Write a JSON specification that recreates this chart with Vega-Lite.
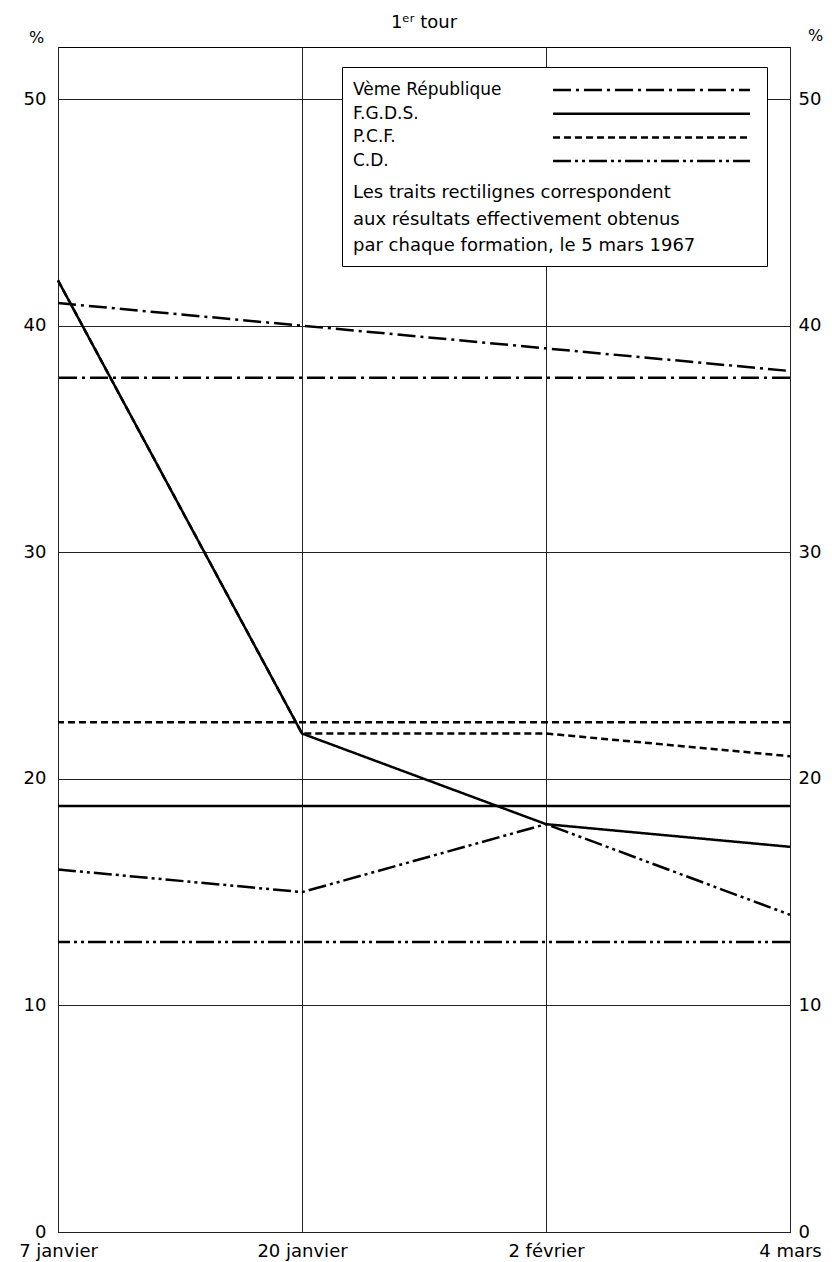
{
  "$schema": "https://vega.github.io/schema/vega-lite/v6.json",
  "width": 732,
  "height": 1185,
  "autosize": {"type": "none"},
  "padding": {"left": 58, "top": 47, "right": 42, "bottom": 30},
  "background": "white",
  "title": {"text": "1ᵉʳ tour", "fontSize": 18, "font": "DejaVu Sans", "fontWeight": "normal", "offset": -5, "color": "black"},
  "datasets": {
    "sondages": [
      {"date": "7 janvier", "parti": "Vème République", "pct": 41},
      {"date": "20 janvier", "parti": "Vème République", "pct": 40},
      {"date": "2 février", "parti": "Vème République", "pct": 39},
      {"date": "4 mars", "parti": "Vème République", "pct": 38},
      {"date": "7 janvier", "parti": "F.G.D.S.", "pct": 42},
      {"date": "20 janvier", "parti": "F.G.D.S.", "pct": 22},
      {"date": "2 février", "parti": "F.G.D.S.", "pct": 18},
      {"date": "4 mars", "parti": "F.G.D.S.", "pct": 17},
      {"date": "7 janvier", "parti": "P.C.F.", "pct": 42},
      {"date": "20 janvier", "parti": "P.C.F.", "pct": 22},
      {"date": "2 février", "parti": "P.C.F.", "pct": 22},
      {"date": "4 mars", "parti": "P.C.F.", "pct": 21},
      {"date": "7 janvier", "parti": "C.D.", "pct": 16},
      {"date": "20 janvier", "parti": "C.D.", "pct": 15},
      {"date": "2 février", "parti": "C.D.", "pct": 18},
      {"date": "4 mars", "parti": "C.D.", "pct": 14}
    ],
    "resultats": [
      {"parti": "Vème République", "pct": 37.7},
      {"parti": "F.G.D.S.", "pct": 18.8},
      {"parti": "P.C.F.", "pct": 22.5},
      {"parti": "C.D.", "pct": 12.8}
    ]
  },
  "layer": [
    {
      "data": {"name": "resultats"},
      "mark": {"type": "rule", "strokeWidth": 2.5, "color": "black"},
      "encoding": {
        "y": {
          "field": "pct", "type": "quantitative",
          "scale": {"domain": [0, 52.3], "nice": false, "zero": true},
          "axis": {"orient": "right", "grid": false, "values": [0, 10, 20, 30, 40, 50], "title": "%", "titleX": 25, "titleY": -12, "labelPadding": 8}
        },
        "strokeDash": {
          "field": "parti", "type": "nominal",
          "scale": {"domain": ["Vème République", "F.G.D.S.", "P.C.F.", "C.D."], "range": [[18, 5, 3, 5], [1, 0], [7, 4], [18, 4, 3, 4, 3, 4]]},
          "legend": {"symbolType": "M17.905,0H36.667", "title": ["Les traits rectilignes correspondent", "aux résultats effectivement obtenus", "par chaque formation, le 5 mars 1967"]}
        }
      }
    },
    {
      "data": {"name": "sondages"},
      "mark": {"type": "line", "strokeWidth": 2.5, "color": "black"},
      "encoding": {
        "x": {
          "field": "date", "type": "ordinal", "sort": null,
          "scale": {"type": "point", "padding": 0},
          "axis": {"title": null, "grid": true, "labelAngle": 0, "labelPadding": 10}
        },
        "y": {
          "field": "pct", "type": "quantitative",
          "scale": {"domain": [0, 52.3], "nice": false, "zero": true},
          "axis": {"orient": "left", "grid": true, "values": [0, 10, 20, 30, 40, 50], "title": "%", "titleX": -22, "titleY": -10, "labelPadding": 12}
        },
        "strokeDash": {
          "field": "parti", "type": "nominal",
          "scale": {"domain": ["Vème République", "F.G.D.S.", "P.C.F.", "C.D."], "range": [[18, 5, 3, 5], [1, 0], [7, 4], [18, 4, 3, 4, 3, 4]]},
          "legend": {"symbolType": "M17.905,0H36.667", "title": ["Les traits rectilignes correspondent", "aux résultats effectivement obtenus", "par chaque formation, le 5 mars 1967"]}
        }
      }
    }
  ],
  "resolve": {"axis": {"y": "independent"}},
  "config": {
    "font": "DejaVu Sans",
    "view": {"stroke": "black", "strokeWidth": 1},
    "axis": {
      "labelFont": "DejaVu Sans",
      "labelFontSize": 18,
      "labelColor": "black",
      "ticks": false,
      "domain": false,
      "gridColor": "#222222",
      "gridWidth": 1,
      "gridOpacity": 1,
      "titleFont": "DejaVu Sans",
      "titleFontSize": 16,
      "titleFontWeight": "normal",
      "titleColor": "black",
      "titleAngle": 0,
      "titleAlign": "center",
      "titleBaseline": "middle"
    },
    "legend": {
      "orient": "none",
      "legendX": 284,
      "legendY": 20,
      "padding": 11,
      "fillColor": "white",
      "strokeColor": "black",
      "cornerRadius": 0,
      "symbolType": "M17.905,0H36.667",
      "symbolSize": 441,
      "symbolStrokeWidth": 2.5,
      "symbolStrokeColor": "black",
      "symbolFillColor": "transparent",
      "symbolOffset": 0,
      "labelOffset": -24,
      "rowPadding": 3.7,
      "labelFont": "DejaVu Sans",
      "labelFontSize": 17,
      "labelLimit": 300,
      "labelColor": "black",
      "titleOrient": "bottom",
      "titleAnchor": "start",
      "titleFont": "DejaVu Sans",
      "titleFontSize": 18,
      "titleFontWeight": "normal",
      "titleLimit": 600,
      "titleLineHeight": 26.5,
      "titlePadding": 15,
      "titleColor": "black"
    }
  }
}
